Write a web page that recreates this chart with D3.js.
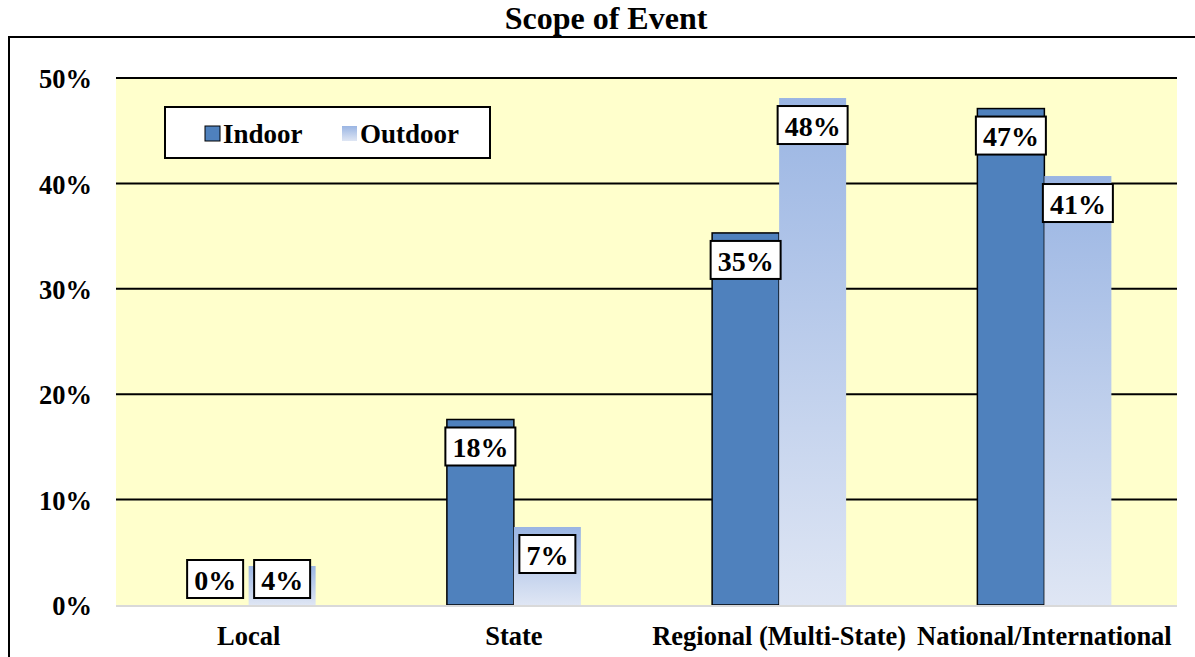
<!DOCTYPE html>
<html>
<head>
<meta charset="utf-8">
<script src="https://cdn.jsdelivr.net/npm/d3@7"></script>
<style>
  body { margin: 0; background: #fff; }
  svg { display: block; font-weight: bold; }
  svg text { font-family: "Liberation Serif", "Times New Roman", serif; }
</style>
</head>
<body>
<svg id="chart" width="1195" height="657"></svg>
<script>
// chart data
const categories = ["Local", "State", "Regional (Multi-State)", "National/International"];
const seriesNames = ["Indoor", "Outdoor"];
const indoor = [0, 17.6, 35.3, 47.1];
const outdoor = [3.7, 7.4, 48.1, 40.7];
const labelsIndoor = ["0%", "18%", "35%", "47%"];
const labelsOutdoor = ["4%", "7%", "48%", "41%"];
const yTicks = [0, 10, 20, 30, 40, 50];

const svg = d3.select("#chart");
const plot = {left: 116, right: 1177, top: 78, bottom: 605};

// outer frame (top + left edges visible)
svg.append("path")
  .attr("d", "M9,657 L9,37 L1195,37")
  .attr("fill", "none").attr("stroke", "#000").attr("stroke-width", 2);

svg.append("text")
  .attr("x", 606).attr("y", 29)
  .attr("text-anchor", "middle")
  .attr("font-size", 32)
  .text("Scope of Event");

const x = d3.scaleBand().domain(categories).range([plot.left, plot.right]);
const xSeries = d3.scaleBand().domain(seriesNames).range([0, 134]);
const y = d3.scaleLinear().domain([0, 50]).range([plot.bottom, plot.top]);

// gradient for outdoor
const defs = svg.append("defs");
const grad = defs.append("linearGradient").attr("id", "outGrad")
  .attr("x1", 0).attr("y1", 0).attr("x2", 0).attr("y2", 1);
grad.append("stop").attr("offset", "0%").attr("stop-color", "#9ab5e3");
grad.append("stop").attr("offset", "100%").attr("stop-color", "#dfe6f4");

svg.append("rect")
  .attr("x", plot.left).attr("y", plot.top)
  .attr("width", plot.right - plot.left).attr("height", plot.bottom - plot.top)
  .attr("fill", "#ffffcc");

// gridlines
svg.append("g").selectAll("line")
  .data(yTicks.filter(d => d > 0))
  .join("line")
  .attr("x1", plot.left).attr("x2", plot.right)
  .attr("y1", d => y(d)).attr("y2", d => y(d))
  .attr("stroke", "#000").attr("stroke-width", 2);

// y tick labels
svg.append("g").selectAll("text")
  .data(yTicks)
  .join("text")
  .attr("x", 92).attr("y", d => y(d) + 1)
  .attr("dy", "0.35em")
  .attr("text-anchor", "end")
  .attr("font-size", 26.5)
  .text(d => d + "%");

const barOffset = (x.bandwidth() - xSeries.range()[1]) / 2;
const rows = categories.map((c, i) => ({
  cat: c,
  vals: [
    {s: "Indoor", v: indoor[i], lab: labelsIndoor[i]},
    {s: "Outdoor", v: outdoor[i], lab: labelsOutdoor[i]}
  ]
}));

const groups = svg.append("g").selectAll("g")
  .data(rows).join("g")
  .attr("transform", d => `translate(${x(d.cat) + barOffset},0)`);

// bars
groups.selectAll("rect.bar")
  .data(d => d.vals)
  .join("rect")
  .attr("class", "bar")
  .attr("x", d => xSeries(d.s))
  .attr("width", xSeries.bandwidth())
  .attr("y", d => y(d.v))
  .attr("height", d => y(0) - y(d.v))
  .attr("fill", d => d.s === "Indoor" ? "#4f81bd" : "url(#outGrad)")
  .attr("stroke", d => d.s === "Indoor" && d.v > 0 ? "#000" : "none")
  .attr("stroke-width", 1.5);

// axis line
svg.append("line")
  .attr("x1", plot.left).attr("x2", plot.right)
  .attr("y1", plot.bottom + 1).attr("y2", plot.bottom + 1)
  .attr("stroke", "#d9d9d9").attr("stroke-width", 2);

// data labels
const labH = 38;
groups.each(function(d) {
  const g = d3.select(this);
  d.vals.forEach(v => {
    const cx = xSeries(v.s) + xSeries.bandwidth() / 2;
    const top = Math.min(y(v.v) + 8, plot.bottom - 7 - labH);
    const t = g.append("text")
      .attr("x", cx).attr("y", top + labH / 2 + 1)
      .attr("dy", "0.35em")
      .attr("text-anchor", "middle")
      .attr("font-size", 28)
      .text(v.lab);
    const w = t.node().getComputedTextLength() + 14;
    g.insert("rect", function() { return t.node(); })
      .attr("x", cx - w / 2).attr("y", top)
      .attr("width", w).attr("height", labH)
      .attr("fill", "#fff").attr("stroke", "#000").attr("stroke-width", 2);
  });
});

// category labels
svg.append("g").selectAll("text")
  .data(categories)
  .join("text")
  .attr("x", d => x(d) + x.bandwidth() / 2)
  .attr("y", 645)
  .attr("text-anchor", "middle")
  .attr("font-size", 26.5)
  .text(d => d);

// legend
const leg = svg.append("g").attr("transform", "translate(165,107)");
leg.append("rect").attr("width", 325).attr("height", 51)
  .attr("fill", "#fff").attr("stroke", "#000").attr("stroke-width", 2);
const legX = [40, 177];
seriesNames.forEach((s, i) => {
  leg.append("rect")
    .attr("x", legX[i]).attr("y", 19).attr("width", 15).attr("height", 15)
    .attr("fill", s === "Indoor" ? "#4f81bd" : "url(#outGrad)")
    .attr("stroke", s === "Indoor" ? "#000" : "none");
  leg.append("text")
    .attr("x", legX[i] + 18).attr("y", 27)
    .attr("dy", "0.35em")
    .attr("font-size", 27)
    .text(s);
});
</script>
</body>
</html>
